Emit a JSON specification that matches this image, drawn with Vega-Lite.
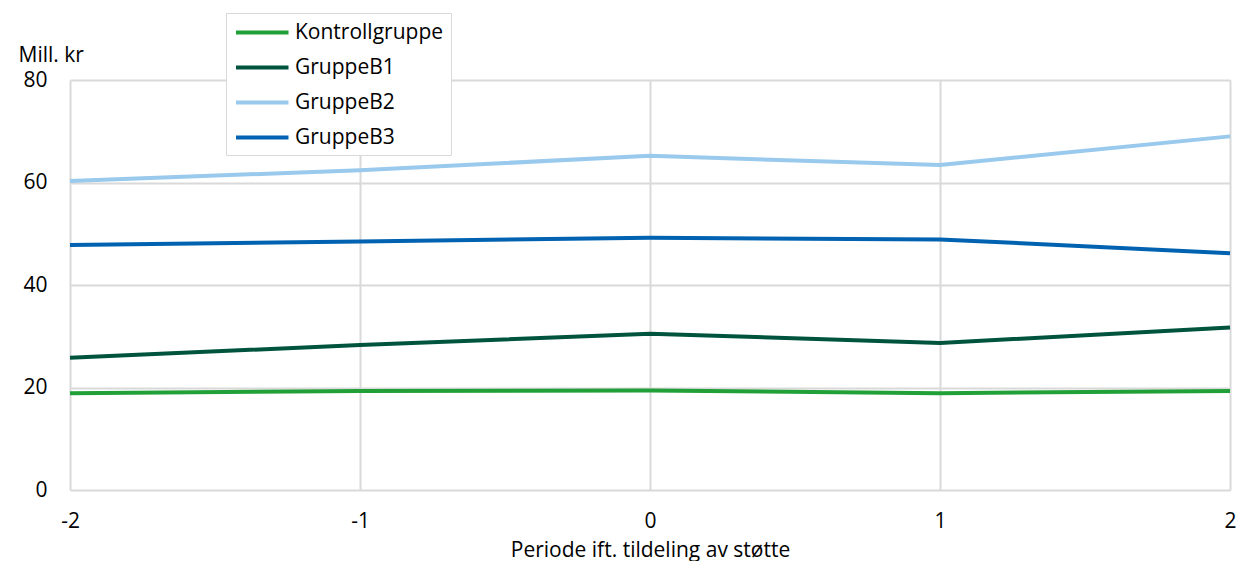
{
  "$schema": "https://vega.github.io/schema/vega-lite/v6.json",
  "width": 1160,
  "height": 410,
  "autosize": "none",
  "padding": {"left": 70, "top": 80, "right": 9, "bottom": 71},
  "background": "white",
  "config": {
    "font": "Open Sans",
    "view": {"stroke": null}
  },
  "data": {
    "values": [
      {"periode": -2, "gruppe": "Kontrollgruppe", "verdi": 18.9},
      {"periode": -1, "gruppe": "Kontrollgruppe", "verdi": 19.3},
      {"periode": 0, "gruppe": "Kontrollgruppe", "verdi": 19.4},
      {"periode": 1, "gruppe": "Kontrollgruppe", "verdi": 18.9},
      {"periode": 2, "gruppe": "Kontrollgruppe", "verdi": 19.3},
      {"periode": -2, "gruppe": "GruppeB1", "verdi": 25.8},
      {"periode": -1, "gruppe": "GruppeB1", "verdi": 28.3},
      {"periode": 0, "gruppe": "GruppeB1", "verdi": 30.5},
      {"periode": 1, "gruppe": "GruppeB1", "verdi": 28.7},
      {"periode": 2, "gruppe": "GruppeB1", "verdi": 31.7},
      {"periode": -2, "gruppe": "GruppeB2", "verdi": 60.3},
      {"periode": -1, "gruppe": "GruppeB2", "verdi": 62.4},
      {"periode": 0, "gruppe": "GruppeB2", "verdi": 65.2},
      {"periode": 1, "gruppe": "GruppeB2", "verdi": 63.4},
      {"periode": 2, "gruppe": "GruppeB2", "verdi": 69.0},
      {"periode": -2, "gruppe": "GruppeB3", "verdi": 47.8},
      {"periode": -1, "gruppe": "GruppeB3", "verdi": 48.5},
      {"periode": 0, "gruppe": "GruppeB3", "verdi": 49.2},
      {"periode": 1, "gruppe": "GruppeB3", "verdi": 48.9},
      {"periode": 2, "gruppe": "GruppeB3", "verdi": 46.2}
    ]
  },
  "mark": {"type": "line", "strokeWidth": 4, "strokeCap": "butt", "strokeJoin": "miter"},
  "encoding": {
    "x": {
      "field": "periode",
      "type": "quantitative",
      "scale": {"domain": [-2, 2], "nice": false, "zero": false},
      "axis": {
        "values": [-2, -1, 0, 1, 2],
        "labelExpr": "datum.value",
        "title": "Periode ift. tildeling av støtte",
        "titleFont": "Open Sans",
        "titleFontWeight": "normal",
        "titleFontSize": 21,
        "titleColor": "#000000",
        "titlePadding": 8,
        "labelFont": "Open Sans",
        "labelFontSize": 21,
        "labelColor": "#000000",
        "labelPadding": 20,
        "labelFlush": false,
        "labelOverlap": false,
        "ticks": false,
        "domain": false,
        "grid": true,
        "gridColor": "#d9d9d9",
        "gridWidth": 2
      }
    },
    "y": {
      "field": "verdi",
      "type": "quantitative",
      "scale": {"domain": [0, 80], "nice": false},
      "axis": {
        "values": [0, 20, 40, 60, 80],
        "title": "Mill. kr",
        "titleAngle": 0,
        "titleAlign": "left",
        "titleBaseline": "middle",
        "titleX": -52,
        "titleY": -25,
        "titleFont": "Open Sans",
        "titleFontWeight": "normal",
        "titleFontSize": 21,
        "titleColor": "#000000",
        "labelFont": "Open Sans",
        "labelFontSize": 21,
        "labelColor": "#000000",
        "labelPadding": 23,
        "ticks": false,
        "domain": false,
        "grid": true,
        "gridColor": "#d9d9d9",
        "gridWidth": 2
      }
    },
    "color": {
      "field": "gruppe",
      "type": "nominal",
      "scale": {
        "domain": ["Kontrollgruppe", "GruppeB1", "GruppeB2", "GruppeB3"],
        "range": ["#21a038", "#00543e", "#99c9ec", "#0062b0"]
      },
      "legend": {
        "title": null,
        "orient": "none",
        "legendX": 156,
        "legendY": -67,
        "direction": "vertical",
        "symbolType": "M-1,0H4",
        "symbolSize": 441,
        "symbolStrokeWidth": 4,
        "symbolOffset": 1,
        "labelFont": "Open Sans",
        "labelFontSize": 21,
        "labelColor": "#000000",
        "labelOffset": 36,
        "rowPadding": 12,
        "padding": 7,
        "strokeColor": "#d9d9d9",
        "fillColor": "white"
      }
    }
  }
}
